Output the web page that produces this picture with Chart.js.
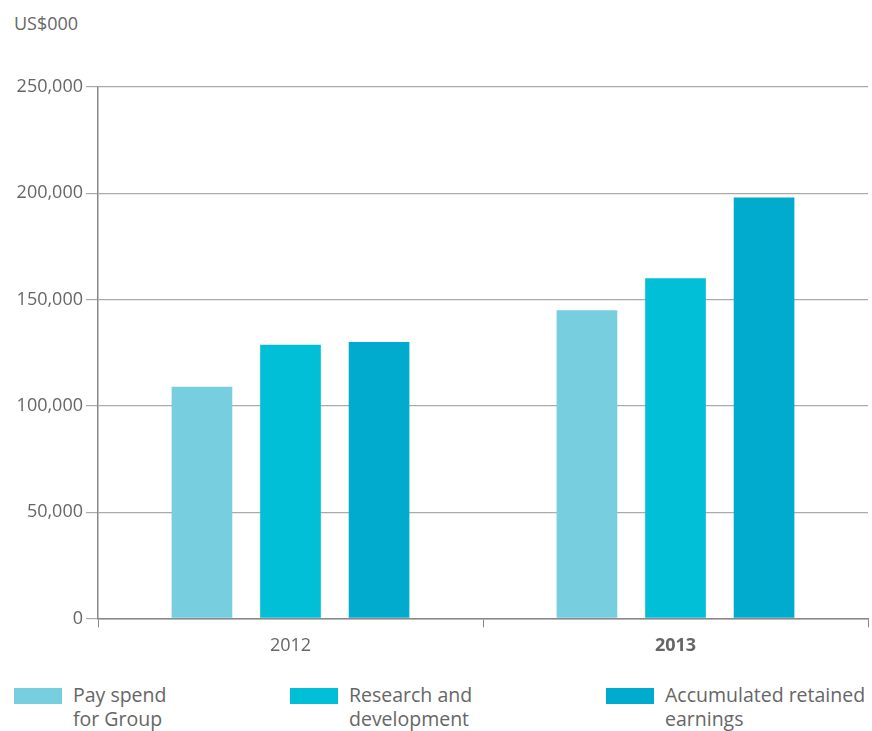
<!DOCTYPE html>
<html>
<head>
<meta charset="utf-8">
<script src="https://cdn.jsdelivr.net/npm/chart.js@4.4.1/dist/chart.umd.min.js"></script>
<style>
  body { margin: 0; background: #fff; font-family: "Open Sans", sans-serif; color: #666; }
  #wrap { position: relative; width: 872px; height: 731px; }
  #unit { position: absolute; left: 14px; top: 11px; font-size: 18px; color: #666; }
  #box { position: absolute; left: 0; top: 40px; width: 872px; height: 625px; }
  .leg { position: absolute; top: 683px; font-size: 19.5px; line-height: 24px; color: #666; }
  .leg span { position: absolute; left: 0; top: 5px; width: 48px; height: 16px; }
  .leg div { margin-left: 59px; white-space: nowrap; }
</style>
</head>
<body>
<div id="wrap">
  <div id="unit">US$000</div>
  <div id="box"><canvas id="chart"></canvas></div>
  <div id="legend"></div>
</div>
<script>
// data
const years = ['2012', '2013'];
const seriesNames = [['Pay spend', 'for Group'], ['Research and', 'development'], ['Accumulated retained', 'earnings']];
const paySpend = [109000, 145000];
const research = [128700, 160000];
const retained = [130000, 198000];
const yTicks = [0, 50000, 100000, 150000, 200000, 250000];

const colors = ['#77cede', '#00bfd7', '#00abce'];
const legendX = [14, 290, 606];

// legend (html so labels can wrap to two lines)
const legend = document.getElementById('legend');
seriesNames.forEach(function (name, i) {
  const item = document.createElement('div');
  item.className = 'leg';
  item.style.left = legendX[i] + 'px';
  item.innerHTML = '<span style="background:' + colors[i] + '"></span><div>' + name.join('<br>') + '</div>';
  legend.appendChild(item);
});

const allSeries = [paySpend, research, retained];

const data = {
  labels: years,
  datasets: allSeries.map(function (vals, i) {
    return {
      label: seriesNames[i].join(' '),
      data: vals,
      backgroundColor: colors[i],
      categoryPercentage: 0.69,
      barPercentage: 0.685
    };
  })
};

const config = {
  type: 'bar',
  data: data,
  options: {
    responsive: true,
    maintainAspectRatio: false,
    animation: false,
    layout: { padding: { top: 47, right: 4, left: 0, bottom: 0 } },
    plugins: {
      legend: { display: false },
      tooltip: { enabled: false }
    },
    scales: {
      x: {
        grid: {
          display: true,
          drawOnChartArea: false,
          offset: true,
          tickLength: 9,
          color: '#888'
        },
        border: { color: '#888', width: 1.5 },
        ticks: {
          color: '#666',
          padding: 8,
          font: function (ctx) {
            return { family: 'Open Sans', size: 18, weight: ctx.index === 1 ? 'bold' : 'normal' };
          }
        }
      },
      y: {
        min: 0,
        max: 250000,
        afterBuildTicks: function (scale) {
          scale.ticks = yTicks.map(function (v) { return { value: v }; });
        },
        afterFit: function (scale) {
          scale.width = 98;
        },
        grid: {
          color: '#aaa',
          lineWidth: 1.2,
          tickLength: 12
        },
        border: { color: '#888', width: 1.5 },
        ticks: {
          color: '#666',
          padding: 3,
          font: { family: 'Open Sans', size: 18 },
          callback: function (v) { return v.toLocaleString('en-US'); }
        }
      }
    }
  }
};

var myChart = new Chart(document.getElementById('chart'), config);
</script>
</body>
</html>
